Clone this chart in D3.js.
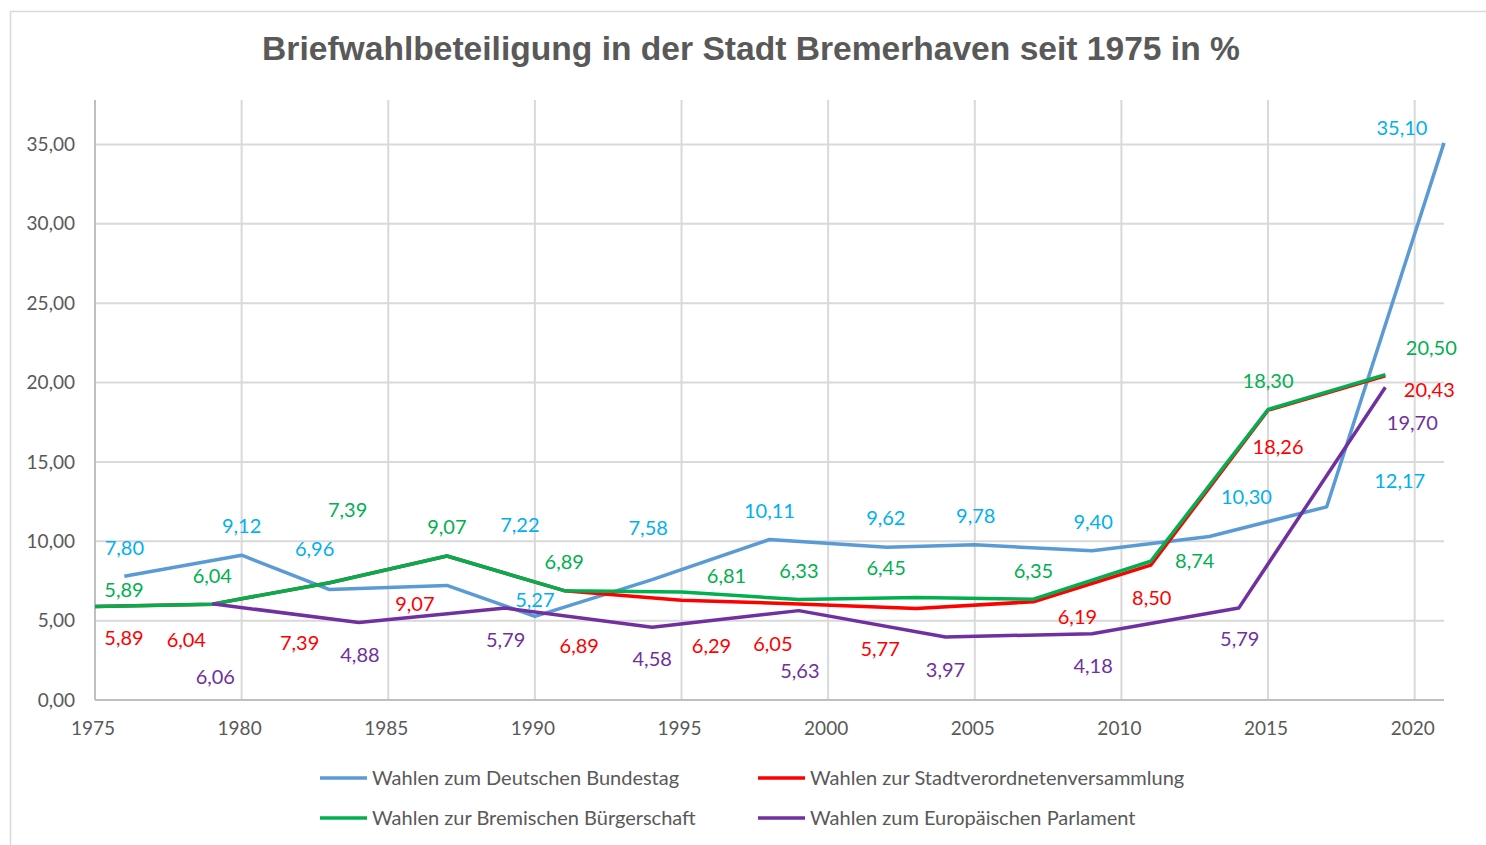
<!DOCTYPE html>
<html><head><meta charset="utf-8">
<script src="https://cdn.jsdelivr.net/npm/d3@7"></script>
<style>body{margin:0;background:#fff}svg{display:block}</style>
</head><body>
<svg id="c" width="1486" height="845"></svg>
<script>
// ---- data ----
const title = "Briefwahlbeteiligung in der Stadt Bremerhaven seit 1975 in %";
const seriesNames = ["Wahlen zum Deutschen Bundestag","Wahlen zur Stadtverordnetenversammlung","Wahlen zur Bremischen Bürgerschaft","Wahlen zum Europäischen Parlament"];
const yearsBundestag = [1976,1980,1983,1987,1990,1994,1998,2002,2005,2009,2013,2017,2021];
const valuesBundestag = [7.80,9.12,6.96,7.22,5.27,7.58,10.11,9.62,9.78,9.40,10.30,12.17,35.10];
const yearsLand = [1975,1979,1983,1987,1991,1995,1999,2003,2007,2011,2015,2019];
const valuesStadt = [5.89,6.04,7.39,9.07,6.89,6.29,6.05,5.77,6.19,8.50,18.26,20.43];
const valuesBuerger = [5.89,6.04,7.39,9.07,6.89,6.81,6.33,6.45,6.35,8.74,18.30,20.50];
const yearsEU = [1979,1984,1989,1994,1999,2004,2009,2014,2019];
const valuesEU = [6.06,4.88,5.79,4.58,5.63,3.97,4.18,5.79,19.70];
const yTicks = [0,5,10,15,20,25,30,35];
const xTicks = [1975,1980,1985,1990,1995,2000,2005,2010,2015,2020];

// ---- layout (label offsets in px relative to each point) ----
const offBundestag = [[0,-28],[0,-29],[-15,-41],[73,-60],[0,-16],[-4,-52],[0,-29],[-1,-29],[1,-29],[1,-29],[37,-40],[73,-26],[-42,-15]];
const offStadt = [[29,31],[-26,36],[-30,60],[-32,48],[15,55],[30,46],[-26,40],[-36,41],[44,15],[1,33],[10,37],[44,14]];
const offBuerger = [[29,-17],[0,-28],[18,-73],[0,-29],[0,-29],[45,-16],[0,-29],[-30,-30],[0,-28],[44,0],[0,-29],[46,-27]];
const offEU = [[3,73],[1,32],[0,32],[0,32],[1,60],[0,33],[1,32],[1,31],[27,36]];

const series = [
  {name:seriesNames[0], years:yearsBundestag, values:valuesBundestag, off:offBundestag, line:"#5B9BD5", label:"#00B0F0"},
  {name:seriesNames[1], years:yearsLand, values:valuesStadt, off:offStadt, line:"#FF0000", label:"#FF0000"},
  {name:seriesNames[2], years:yearsLand, values:valuesBuerger, off:offBuerger, line:"#00B050", label:"#00B050"},
  {name:seriesNames[3], years:yearsEU, values:valuesEU, off:offEU, line:"#7030A0", label:"#7030A0"}
];

const svg = d3.select("#c");
const grey = "#595959", gridC = "#d9d9d9";
const fmt = d3.formatLocale({decimal:",",thousands:".",grouping:[3],currency:["","€"]}).format(".2f");

const x = d3.scaleLinear().domain([1975,2021]).range([95,1444]);
const y = d3.scaleLinear().domain([0,37.8]).range([700,100]);

// frame
svg.append("rect").attr("x",10.5).attr("y",11.5).attr("width",1490).attr("height",850)
  .attr("fill","none").attr("stroke",gridC).attr("stroke-width",1.5);

// title
svg.append("text").attr("x",751).attr("y",60).attr("text-anchor","middle")
  .attr("font-family","Liberation Sans, Arial, sans-serif").attr("font-weight","bold")
  .attr("font-size",33.6).attr("fill",grey).text(title);

// grid
const g = svg.append("g");
g.selectAll(".hg").data(yTicks.slice(1)).join("line")
  .attr("x1",x.range()[0]).attr("x2",x.range()[1])
  .attr("y1",d=>y(d)).attr("y2",d=>y(d)).attr("stroke",gridC).attr("stroke-width",2);
g.selectAll(".vg").data(xTicks).join("line")
  .attr("x1",d=>x(d)).attr("x2",d=>x(d))
  .attr("y1",y.range()[1]).attr("y2",y(0)).attr("stroke",gridC).attr("stroke-width",2);
g.append("line").attr("x1",x.range()[0]).attr("x2",x.range()[1]).attr("y1",y(0)).attr("y2",y(0))
  .attr("stroke","#bfbfbf").attr("stroke-width",2);
g.append("line").attr("x1",x(1975)).attr("x2",x(1975)).attr("y1",y.range()[1]).attr("y2",y(0))
  .attr("stroke","#bfbfbf").attr("stroke-width",2);

// axis labels
const axF = "Lato, 'Open Sans', sans-serif";
svg.selectAll(".yl").data(yTicks).join("text")
  .attr("x",75).attr("y",d=>y(d)).attr("dy","0.35em").attr("text-anchor","end")
  .attr("font-family",axF).attr("font-size",19).attr("fill",grey).text(d=>fmt(d));
svg.selectAll(".xl").data(xTicks).join("text")
  .attr("x",d=>x(d)-2).attr("y",728).attr("dy","0.35em").attr("text-anchor","middle")
  .attr("font-family",axF).attr("font-size",19).attr("fill",grey).text(d=>d);

// lines
const line = d3.line().x(d=>x(d[0])).y(d=>y(d[1]));
series.forEach(s=>{
  const pts = s.years.map((yr,i)=>[yr,s.values[i]]);
  svg.append("path").datum(pts).attr("d",line).attr("fill","none")
    .attr("stroke",s.line).attr("stroke-width",3.5).attr("stroke-linejoin","round");
});

// labels
series.forEach(s=>{
  svg.append("g").selectAll("text").data(s.years.map((yr,i)=>({yr,v:s.values[i],o:s.off[i]}))).join("text")
    .attr("x",d=>x(d.yr)+d.o[0]).attr("y",d=>y(d.v)+d.o[1]).attr("dy","0.35em")
    .attr("text-anchor","middle").attr("font-family",axF).attr("font-size",20)
    .attr("fill",s.label).text(d=>fmt(d.v));
});

// legend
const legPos = [[320,778],[758,778],[320,818],[758,818]];
series.forEach((s,i)=>{
  const [lx,ly] = legPos[i];
  svg.append("line").attr("x1",lx).attr("x2",lx+47).attr("y1",ly).attr("y2",ly)
    .attr("stroke",s.line).attr("stroke-width",3.5);
  svg.append("text").attr("x",lx+52).attr("y",ly).attr("dy","0.35em")
    .attr("font-family",axF).attr("font-size",20).attr("fill",grey).text(s.name);
});
</script>
</body></html>
